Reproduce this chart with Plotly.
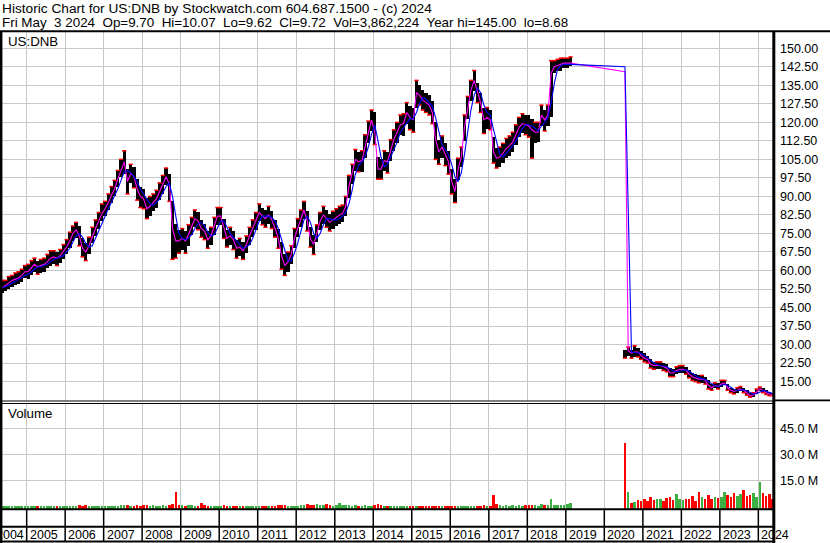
import pandas as pd
import plotly.graph_objects as go

# ---------------- data (one bar per month) ----------------
months_old = pd.date_range("2004-05-01", "2019-02-01", freq="MS")   # old DNB listing
months_new = pd.date_range("2020-07-01", "2024-05-01", freq="MS")   # new DNB listing
dates = [d + pd.Timedelta(days=14) for d in list(months_old) + list(months_new)]

price_hi = [
    56, 56, 57.5, 58, 59, 59.5, 60.5, 62,                                   # 2004
    62.5, 64, 65, 64, 64.5, 65, 66.5, 68, 68, 67.5, 68.5, 70.5,             # 2005
    72.5, 75.5, 78, 79.5, 78, 73, 71, 73.5, 77.5, 80.5, 83.5, 87,           # 2006
    88, 91, 94, 96.5, 100.5, 105, 108.5, 101, 103, 102, 97, 94,             # 2007
    93, 89.5, 90, 91, 92.5, 95.5, 98.5, 101.5, 99, 88, 79, 76.5,            # 2008
    77, 76, 78.5, 81.5, 84.5, 83.5, 80.5, 79, 76, 77.5, 81.5, 85.5,         # 2009
    85.5, 81, 76.5, 77.5, 76, 72.5, 73, 71.5, 74, 77.5, 80.5, 83.5,         # 2010
    87, 85.5, 84.5, 86, 84, 80.5, 77, 71.5, 66.5, 67.5, 70, 77,             # 2011
    81, 84.5, 88, 84, 77.5, 74.5, 78.5, 83.5, 86, 84.5, 83, 84,             # 2012
    85, 86, 86.5, 90, 98.5, 103, 109, 108, 108.5, 115, 120.5, 125,          # 2013
    124, 106, 105, 108.5, 108, 113, 117, 120, 123, 123.5, 128, 126.5,       # 2014
    126, 137, 135, 133, 132, 131, 128.5, 120, 113, 114.5, 111.5, 108.5,     # 2015
    101, 97, 105.5, 110, 123, 130.5, 137, 141, 136, 132, 126, 126,          # 2016
    125, 114, 109.5, 110, 111.5, 113.5, 114.5, 116, 119, 122, 123.5, 123,   # 2017
    123, 121.5, 120, 120, 127, 125, 127, 145, 145, 145.5, 146, 146,         # 2018
    146, 146.5,                                                             # 2019
    28, 29, 28, 29.5, 28.5, 27.5,                                           # 2020
    26.5, 25.5, 24, 23, 23, 23, 22.5, 22, 20.5, 20, 21, 21.5,               # 2021
    21.5, 21, 19.5, 18.5, 18, 17.5, 17.5, 17, 15.5, 14, 14.5, 14.5,         # 2022
    15.5, 15.5, 14, 12.5, 12, 12.5, 13, 12.5, 11.5, 10.5, 10.5, 12,         # 2023
    12.8, 12.5, 11.5, 10.8, 10.2,                                           # 2024
]

price_lo = [
    51, 51.5, 52.5, 53.5, 54, 54.5, 55.5, 57,
    56.5, 58, 59.5, 58.5, 59, 59.5, 61, 62, 62.5, 62, 63, 64.5,
    66.5, 69, 72, 73, 70, 65.5, 64, 66.5, 71, 74, 77, 80,
    82, 84.5, 87.5, 90, 94, 98, 99, 91, 95.5, 93.5, 88.5, 85.5,
    85, 81, 82, 84, 85.5, 88.5, 91, 94.5, 88, 64.5, 65, 67,
    68.5, 67, 70, 74.5, 77.5, 76.5, 73.5, 72.5, 69, 70.5, 74.5, 78.5,
    78.5, 73, 69.5, 70.5, 68.5, 65, 66, 64.5, 67, 70.5, 73.5, 76.5,
    80, 78.5, 77.5, 79, 77, 73.5, 69, 60.5, 58, 59.5, 62.5, 69,
    73.5, 77.5, 81, 76, 69.5, 66.5, 71.5, 76.5, 79, 77.5, 76, 77,
    78, 79, 79.5, 82, 89.5, 95, 100.5, 100, 100, 105.5, 111.5, 116.5,
    111, 97, 97, 100.5, 99.5, 104.5, 108.5, 111.5, 115, 114.5, 119.5, 117,
    116, 126, 127, 125, 124, 123, 119.5, 105, 103, 105.5, 102.5, 99,
    91, 87.5, 96.5, 102, 112.5, 121.5, 128.5, 132.5, 128, 124, 115.5, 117.5,
    117, 103.5, 101.5, 102, 103.5, 105.5, 106.5, 108, 111, 114, 115.5, 115,
    114, 105.5, 111.5, 112, 118.5, 116.5, 118.5, 122, 140, 141, 141, 142,
    142, 143,
    24.5, 25.5, 24.5, 25, 25, 24,
    23, 22.5, 20.5, 20, 20, 20, 19.5, 19, 17, 17, 18, 18.5,
    18.5, 18, 16.5, 15.5, 15, 14.5, 14.5, 14, 12, 11.5, 12.5, 12,
    13, 13.5, 11.5, 10.5, 10, 10.5, 11, 10.5, 9.5, 8.7, 8.8, 10,
    11, 10.5, 9.8, 9.3, 9.4,
]

ma_fast = [   # magenta average
    53, 54, 55, 56, 56.5, 57, 58, 59.5,
    59.5, 61, 62.5, 61.5, 62, 62.5, 63.5, 65, 65.5, 65, 66, 67.5,
    69.5, 72, 75, 76.5, 74, 69, 67.5, 70, 74, 77, 80, 83,
    85, 87.5, 90.5, 93, 97, 101, 104, 96, 99.5, 98, 93, 90,
    89, 85, 86, 87.5, 89, 92, 95, 98, 95, 77, 72, 72,
    73, 72, 74.5, 78, 81, 80, 77, 76, 72.5, 74, 78, 82,
    82, 77, 73, 74, 72.5, 69, 69.5, 68, 70.5, 74, 77, 80,
    83.5, 82, 81, 82.5, 80.5, 77, 73, 66, 62, 63.5, 66.5, 73,
    77, 81, 84.5, 80, 73, 70.5, 75, 80, 82.5, 81, 79.5, 80.5,
    81.5, 82.5, 83, 86, 94, 99, 105, 104, 104.5, 110, 116, 121,
    116, 101, 101, 104.5, 104, 109, 113, 116, 119, 119.5, 124, 122,
    121, 132, 131, 129, 128, 127, 124, 113, 108, 110, 107, 104,
    96, 92, 101, 106, 118, 126, 133, 137, 132, 128, 121, 122,
    121, 108, 105.5, 106, 107.5, 109.5, 110.5, 112, 115, 118, 119.5, 119,
    118.5, 117, 116, 116, 123, 121, 123, 140, 142.5, 143, 143.5, 144,
    144, 144,
    140.5, 27.5, 26.5, 27, 27, 25.5,
    24.5, 24, 22, 21.5, 21.5, 21.5, 21, 20.5, 18.5, 18.5, 19.5, 20,
    20, 19.5, 18, 17, 16.5, 16, 16, 15.5, 13.5, 12.5, 13.5, 13,
    14, 14.5, 12.5, 11.5, 11, 11.5, 12, 11.5, 10.5, 9.3, 9.6, 11,
    12, 11.5, 10.5, 10, 9.8,
]

ma_slow = [   # blue average
    53, 53.5, 54, 55, 55.5, 56.5, 57, 58,
    58.5, 59.5, 60.5, 61.5, 61.5, 62, 62.5, 63.5, 64.5, 65, 65.5, 66,
    67.5, 69, 71.5, 74, 75, 73.5, 71, 69.5, 70, 73, 76.5, 79.5,
    82, 85, 87.5, 90, 93, 96.5, 100, 100.5, 99.5, 98, 96, 93,
    91, 88.5, 87, 86.5, 87.5, 89, 91.5, 94, 95.5, 90, 82, 75,
    73, 72.5, 73, 74.5, 77, 79, 79.5, 78, 75.5, 74, 74.5, 77.5,
    80, 80, 77.5, 75, 73.5, 72, 70.5, 69, 69.5, 70.5, 73, 76.5,
    80, 82, 82, 82, 81.5, 80, 77, 72.5, 67.5, 64, 64, 67,
    71, 75.5, 80.5, 82, 79.5, 75, 73, 75, 78.5, 81, 81, 80.5,
    80.5, 81, 82, 83.5, 87, 92.5, 99, 102.5, 104, 106, 110, 115,
    119, 112.5, 106, 102, 103, 106, 109, 112, 116, 118, 120, 121.5,
    121.5, 124, 127.5, 130, 129.5, 128, 126.5, 122, 116, 111, 109, 107,
    103, 98, 96, 99.5, 107, 116, 125, 131, 134, 132, 127, 124,
    123, 117, 112, 107, 106, 107.5, 109, 110.5, 112.5, 115, 117.5, 119,
    119, 118.5, 117.5, 116.5, 118.5, 120, 122, 128, 136, 141.5, 143, 143.5,
    143.5, 143.5,
    142.5, 85, 27, 26.8, 26.8, 26.5,
    25.5, 24.8, 23.5, 22.5, 21.8, 21.5, 21.3, 21, 20.2, 19.3, 19, 19.3,
    19.8, 19.8, 19.2, 18.2, 17.3, 16.6, 16.2, 15.9, 15, 14, 13.3, 13.1,
    13.4, 13.8, 13.6, 12.8, 11.8, 11.4, 11.5, 11.7, 11.3, 10.5, 9.9, 10.1,
    10.9, 11.4, 11.1, 10.6, 10.2,
]

volume_m = [  # millions of shares
    0.6, 0.5, 0.6, 0.5, 0.7, 0.6, 0.5, 0.6,
    0.7, 0.6, 0.5, 0.8, 0.6, 0.5, 0.6, 0.7, 0.5, 0.9, 0.6, 0.7,
    0.8, 0.7, 0.6, 0.8, 1.0, 0.9, 1.1, 0.8, 0.7, 0.9, 0.8, 0.7,
    0.6, 0.8, 0.7, 0.9, 0.7, 1.0, 1.3, 1.0, 0.8, 0.9, 1.1, 0.8,
    1.0, 1.2, 0.9, 1.0, 0.8, 0.9, 1.1, 0.9, 1.3, 1.6, 8.7, 1.2,
    1.0, 0.9, 1.1, 1.3, 0.9, 0.8, 2.3, 1.0, 0.8, 0.9, 0.7, 0.8,
    0.9, 1.2, 0.8, 0.7, 0.9, 0.8, 0.7, 0.8, 0.6, 0.7, 0.8, 0.7,
    0.8, 0.9, 0.7, 0.8, 0.6, 0.9, 1.1, 1.3, 1.0, 0.9, 0.8, 0.7,
    0.9, 1.1, 1.0, 2.1, 1.3, 1.2, 1.9, 1.2, 1.0, 2.1, 1.1, 0.9,
    1.0, 2.5, 1.2, 1.1, 1.0, 0.9, 1.1, 0.8, 0.9, 1.0, 0.8, 0.7,
    1.0, 1.6, 1.1, 0.9, 0.8, 0.7, 0.8, 0.9, 0.6, 0.7, 0.6, 0.8,
    0.7, 0.9, 0.6, 0.7, 0.6, 0.5, 0.7, 0.8, 0.6, 0.5, 0.6, 0.7,
    0.9, 0.8, 0.7, 0.6, 0.7, 0.6, 0.7, 0.8, 0.6, 0.7, 1.0, 0.8,
    0.9, 7.1, 1.6, 1.0, 0.8, 1.2, 0.9, 1.1, 0.8, 1.0, 0.9, 1.1,
    1.0, 1.3, 1.1, 0.9, 1.8, 1.2, 1.0, 4.6, 1.4, 1.2, 1.5, 1.3,
    1.6, 2.6,
    36.9, 8.5, 2.5, 3.0, 4.0, 3.5,
    4.5, 3.5, 6.0, 4.0, 5.0, 4.5, 3.5, 5.5, 6.0, 4.0, 7.5, 5.0,
    4.0, 4.5, 5.0, 6.5, 3.5, 8.5, 6.0, 5.0, 7.0, 4.5, 6.0, 5.5,
    6.0, 8.5, 7.0, 6.0, 8.0, 6.5, 7.5, 10.0, 6.5, 7.0, 8.0, 6.0,
    14.5, 8.0, 6.5, 7.5, 5.0,
]

price_tick_vals = [15, 22.5, 30, 37.5, 45, 52.5, 60, 67.5, 75, 82.5, 90, 97.5,
                   105, 112.5, 120, 127.5, 135, 142.5, 150]
price_tick_text = ["15.00", "22.50", "30.00", "37.50", "45.00", "52.50", "60.00", "67.50",
                   "75.00", "82.50", "90.00", "97.50", "105.00", "112.50", "120.00",
                   "127.50", "135.00", "142.50", "150.00"]
vol_tick_vals = [15e6, 30e6, 45e6]
vol_tick_text = ["15.0 M", "30.0 M", "45.0 M"]
year_labels = [str(y) for y in range(2004, 2025)]

title_1 = "Historic Chart for US:DNB by Stockwatch.com 604.687.1500 - (c) 2024"
title_2 = ("Fri May\u00a0 3 2024\u00a0 Op=9.70\u00a0 Hi=10.07\u00a0 Lo=9.62\u00a0 Cl=9.72\u00a0 "
           "Vol=3,862,224\u00a0 Year hi=145.00\u00a0 lo=8.68")

n = len(dates)
assert len(price_hi) == n and len(price_lo) == n and len(ma_fast) == n
assert len(ma_slow) == n and len(volume_m) == n

# ---------------- layout geometry (pixels) ----------------
W, H = 830, 543
ML, MR, MT, MB = 2, 57, 31, 0
PW, PH = W - ML - MR, H - MT - MB


def fx(x):
    return (x - ML) / PW


def fy(y):
    return (H - MB - y) / PH


DAY = 86400000
FONT = "Liberation Sans, Arial, sans-serif"
INK = "#000000"
GRID = "#c8c8c8"
VOL_BASE = -1.5e6

fig = go.Figure()

# price bars (high-low)
fig.add_trace(go.Bar(
    x=dates, y=[h - l for h, l in zip(price_hi, price_lo)], base=price_lo,
    width=31 * DAY, marker=dict(color="black", line=dict(width=0)),
    xaxis="x", yaxis="y", hoverinfo="skip"))

# red closing ticks: a falling month closes near its low, a rising one near its high
mids = [(h + l) / 2 for h, l in zip(price_hi, price_lo)]
close_pts = [price_lo[i] if i > 0 and mids[i] < mids[i - 1] else price_hi[i] for i in range(n)]
fig.add_trace(go.Scatter(
    x=dates, y=close_pts, mode="markers",
    marker=dict(symbol="line-ew", size=3, line=dict(color="#ff0000", width=1.5)),
    xaxis="x", yaxis="y", hoverinfo="skip"))

fig.add_trace(go.Scatter(
    x=dates, y=ma_fast, mode="lines", line=dict(color="#ff00ff", width=1.1),
    xaxis="x", yaxis="y", hoverinfo="skip"))
fig.add_trace(go.Scatter(
    x=dates, y=ma_slow, mode="lines", line=dict(color="#0000ff", width=1.1),
    xaxis="x", yaxis="y", hoverinfo="skip"))

# volume bars coloured by the direction of the month
vcolors = ["#ff0000" if i > 0 and mids[i] < mids[i - 1] else "#3cb043" for i in range(n)]
fig.add_trace(go.Bar(
    x=dates, y=[v * 1e6 - VOL_BASE for v in volume_m], base=VOL_BASE,
    width=24 * DAY, marker=dict(color=vcolors, line=dict(width=0)),
    xaxis="x", yaxis="y2", hoverinfo="skip"))

shapes = []


def hline(y, x0=ML, x1=ML + PW, w=1.0):
    shapes.append(dict(type="line", xref="paper", yref="paper", x0=fx(x0), x1=fx(x1),
                       y0=fy(y), y1=fy(y), line=dict(color=INK, width=w), layer="above"))


def vline(x, y0, y1, w=1.0):
    shapes.append(dict(type="line", xref="paper", yref="paper", x0=fx(x), x1=fx(x),
                       y0=fy(y0), y1=fy(y1), line=dict(color=INK, width=w), layer="above"))


hline(31.2, 0, W, 2)          # top frame
hline(401, 0, ML + PW, 1)     # price / volume double line
hline(403.5, 0, ML + PW, 1)
hline(400.3, ML + PW, W, 1.7)
hline(509.3, 0, ML + PW, 2)   # below volume
hline(526.7, 0, ML + PW, 2)
hline(541.6, 0, ML + PW, 2)   # bottom
vline(1.2, 31, H, 2.4)        # left frame
vline(773.8, 31, H, 3)        # right frame

# year separators in the date strip
for yr in year_labels[1:]:
    shapes.append(dict(type="line", xref="x", yref="paper", x0=f"{yr}-01-01", x1=f"{yr}-01-01",
                       y0=fy(541.6), y1=fy(509.3), line=dict(color=INK, width=1.5), layer="above"))

annotations = []
for yr in year_labels:
    if yr == year_labels[0]:
        annotations.append(dict(x=f"{int(yr) + 1}-01-01", xref="x", xanchor="right", xshift=-1,
                                y=fy(534.5), yref="paper", yanchor="middle", text=yr,
                                showarrow=False, font=dict(family=FONT, size=12.5, color=INK)))
    else:
        annotations.append(dict(x=f"{yr}-01-01", xref="x", xanchor="left", xshift=1,
                                y=fy(534.5), yref="paper", yanchor="middle", text=yr,
                                showarrow=False, font=dict(family=FONT, size=12.5, color=INK)))

for txt, yy, fs in ((title_1, 8.8, 13.7), (title_2, 22.5, 13.4)):
    annotations.append(dict(x=fx(0), xref="paper", xanchor="left", y=fy(yy), yref="paper",
                            yanchor="middle", text=txt, showarrow=False,
                            font=dict(family=FONT, size=fs, color=INK)))
annotations.append(dict(x=fx(6.3), xref="paper", xanchor="left", y=fy(41.8), yref="paper",
                        yanchor="middle", text="US:DNB", showarrow=False,
                        font=dict(family=FONT, size=13.3, color=INK)))
annotations.append(dict(x=fx(6.3), xref="paper", xanchor="left", y=fy(413), yref="paper",
                        yanchor="middle", text="Volume", showarrow=False,
                        font=dict(family=FONT, size=13.3, color=INK)))

fig.update_layout(
    width=W, height=H, margin=dict(l=ML, r=MR, t=MT, b=MB, pad=0),
    paper_bgcolor="white", plot_bgcolor="white", showlegend=False,
    bargap=0, barmode="overlay",
    xaxis=dict(type="date", range=["2004-05-12", "2024-05-19"], domain=[0, 1], anchor="y2",
               showgrid=True, gridcolor=GRID, gridwidth=1, tick0="2005-01-01", dtick="M12",
               showticklabels=False, ticks="", zeroline=False, showline=False, fixedrange=True),
    yaxis=dict(domain=[fy(401), 1], range=[7.14, 157.0], side="right", anchor="x",
               tickmode="array", tickvals=price_tick_vals, ticktext=price_tick_text,
               showgrid=True, gridcolor=GRID, gridwidth=1, zeroline=False, showline=False,
               ticks="", ticklabelstandoff=6, tickfont=dict(family=FONT, size=12.5, color=INK)),
    yaxis2=dict(domain=[fy(509.3), fy(403.5)], range=[VOL_BASE, 59.6e6], side="right", anchor="x",
                tickmode="array", tickvals=vol_tick_vals, ticktext=vol_tick_text,
                showgrid=True, gridcolor=GRID, gridwidth=1, zeroline=False, showline=False,
                ticks="", ticklabelstandoff=6, tickfont=dict(family=FONT, size=12.5, color=INK)),
    shapes=shapes, annotations=annotations,
)

fig.write_html(
    "out.html",
    config={"displayModeBar": False},
    post_script="document.body.style.margin='0';document.body.style.padding='0';",
)
